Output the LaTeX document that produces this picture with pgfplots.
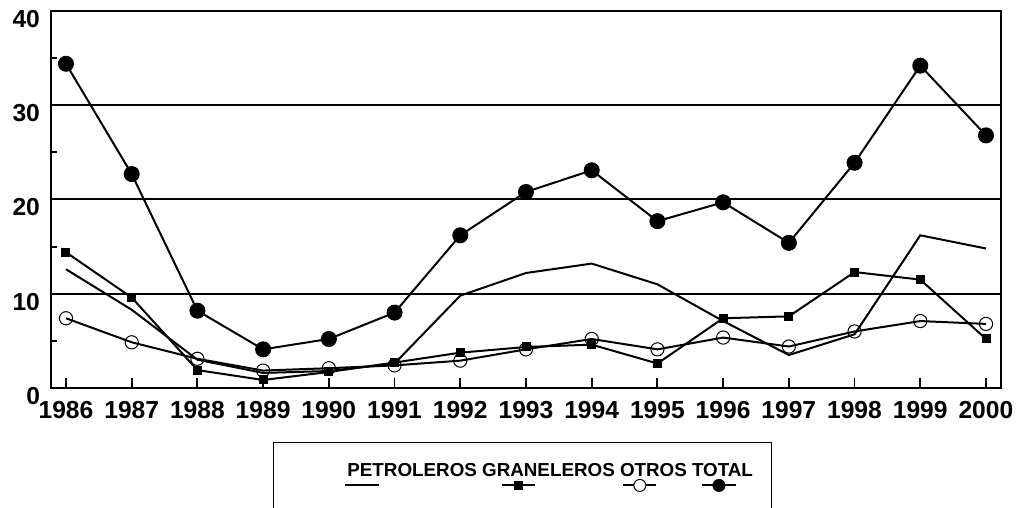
\documentclass[border=0pt]{standalone}
\usepackage{fontspec}
\setmainfont{Liberation Sans}
\usepackage{pgfplots}
\pgfplotsset{compat=1.18}
\begin{document}
\begin{tikzpicture}
\begin{axis}[
  scale only axis, width=475pt, height=188.5pt,
  xmin=1985.772, xmax=2000.228, ymin=0, ymax=40,
  xtick={1986,1987,...,2000}, ytick={0,10,20,30,40}, minor ytick={5,15,25,35},
  tick pos=left, tick align=inside,
  major tick length=5pt, minor tick length=3pt,
  every tick/.style={black, line width=0.9pt},
  ymajorgrids, grid style={black, line width=1pt},
  axis line style={line width=1.2pt},
  /pgf/number format/assume math mode=true,
  /pgf/number format/1000 sep={},
  ticklabel style={font=\fontsize{12.3}{14}\selectfont\bfseries},
  xticklabel style={yshift=-3pt},
  yticklabel style={yshift=-4pt, xshift=-2pt},
  legend columns=4, legend plot pos=right,
  legend style={draw=none, fill=none, inner sep=0pt,
    font=\fontsize{9.4}{11}\selectfont\bfseries,
    at={(0.3116,-0.1989)}, anchor=north west,
    nodes={inner sep=0pt},
    /tikz/every odd column/.style={column sep=0pt},
    /tikz/every even column/.style={column sep=2.6pt}},
]
\addplot[black, line width=1pt, mark=none,
  legend image code/.code={\draw[overlay,black,line width=1pt] (-65.8pt,-7pt) -- (-49.2pt,-7pt);}]
 coordinates {(1986,12.6)(1987,8.3)(1988,3.0)(1989,1.6)(1990,1.8)(1991,2.6)(1992,9.8)(1993,12.2)(1994,13.2)(1995,11.0)(1996,7.1)(1997,3.5)(1998,5.7)(1999,16.2)(2000,14.8)};
\addlegendentry{PETROLEROS}
\addplot[black, line width=1pt, mark=square*, mark size=2pt, mark options={solid, line width=0.5pt},
  legend image code/.code={\draw[overlay,black,line width=1pt] (-56.5pt,-7pt) -- (-39.9pt,-7pt);
    \draw[overlay,black,line width=0.5pt,mark=square*,mark size=2pt] plot coordinates {(-48.2pt,-7pt)};}]
 coordinates {(1986,14.4)(1987,9.6)(1988,1.9)(1989,0.85)(1990,1.7)(1991,2.7)(1992,3.75)(1993,4.35)(1994,4.6)(1995,2.6)(1996,7.4)(1997,7.6)(1998,12.3)(1999,11.5)(2000,5.2)};
\addlegendentry{GRANELEROS}
\addplot[black, line width=1pt, mark=o, mark size=3.3pt, mark options={solid, line width=0.5pt},
  legend image code/.code={\draw[overlay,black,line width=1pt] (-31.8pt,-7pt) -- (-15.2pt,-7pt);
    \draw[overlay,black,line width=0.5pt,mark=*,mark size=3pt,mark options={fill=white}] plot coordinates {(-23.5pt,-7pt)};}]
 coordinates {(1986,7.4)(1987,4.85)(1988,3.1)(1989,1.85)(1990,2.1)(1991,2.4)(1992,2.9)(1993,4.1)(1994,5.2)(1995,4.1)(1996,5.35)(1997,4.4)(1998,6.0)(1999,7.1)(2000,6.8)};
\addlegendentry{OTROS}
\addplot[black, line width=1pt, mark=*, mark size=3.75pt, mark options={solid, line width=0.5pt},
  legend image code/.code={\draw[overlay,black,line width=1pt] (-25.3pt,-7pt) -- (-8.7pt,-7pt);
    \draw[overlay,black,line width=0.5pt,mark=*,mark size=3pt] plot coordinates {(-17pt,-7pt)};}]
 coordinates {(1986,34.4)(1987,22.7)(1988,8.2)(1989,4.1)(1990,5.2)(1991,8.0)(1992,16.2)(1993,20.8)(1994,23.1)(1995,17.7)(1996,19.7)(1997,15.4)(1998,23.9)(1999,34.2)(2000,26.8)};
\addlegendentry{TOTAL}
\end{axis}
\draw[line width=0.5pt] (111pt,-27.5pt) rectangle (360pt,-70pt);
\pgfresetboundingbox
\path[use as bounding box] (-25.5pt,-60pt) rectangle (484pt,194pt);
\end{tikzpicture}
\end{document}
